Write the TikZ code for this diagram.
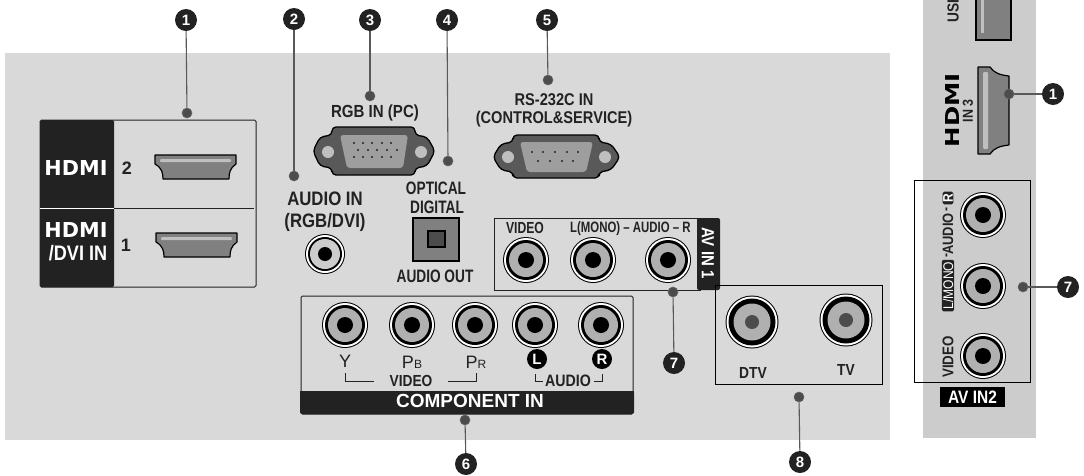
\documentclass[tikz,border=0pt]{standalone}
\usepackage{graphicx}
\usepackage{fontspec}
\setmainfont{Liberation Sans}
\newfontfamily\nar[FakeStretch=0.86]{Liberation Sans}
\newfontfamily\nrw[FakeStretch=0.76]{Liberation Sans}
\newfontfamily\logofont{DejaVu Sans}
\definecolor{ink}{HTML}{222222}
\definecolor{panelA}{HTML}{D9D9D9}
\definecolor{panelB}{HTML}{CCCCCC}
\definecolor{portgray}{HTML}{808080}
\definecolor{jackgray}{HTML}{B0B0B0}
\newcommand{\fsz}[1]{\fontsize{#1}{#1}\selectfont}
\newcommand{\jackport}[2]{%
  \fill[black] (#1,#2) circle (23);
  \fill[white] (#1,#2) circle (22);
  \fill[black] (#1,#2) circle (20);
  \fill[jackgray] (#1,#2) circle (17);
  \fill[black] (#1,#2) circle (8);}
\newcommand{\coaxport}[2]{%
  \fill[black] (#1,#2) circle (26.5);
  \fill[white] (#1,#2) circle (25.5);
  \fill[black] (#1,#2) circle (23.5);
  \fill[jackgray] (#1,#2) circle (18.5);
  \fill[black!70] (#1,#2) circle (7);}
\newcommand{\hdmiport}[2]{%
  \begin{scope}[shift={(#1,#2)}]
  \draw[portfill] (0,0) -- (81,0) -- (81,9) .. controls (75,13) and (74,18) .. (74,24) -- (8,24) .. controls (8,18) and (7,13) .. (0,9) -- cycle;
  \fill[black!25,rounded corners=1] (5,4) rectangle (76,7);
  \end{scope}}
\newcommand{\hdmilogo}[2]{\resizebox{#1pt}{#2pt}{\logofont\bfseries HDMI}}
\tikzset{
  x=1pt,y=-1pt,
  portfill/.style={draw=black,line width=1.2pt,fill=portgray,line join=round},
  lab/.style={inner sep=0,text=ink,font=\nar\bfseries\fsz{17.5}},
  whitelab/.style={lab,text=white},
  badge/.style={circle,fill=ink,text=white,inner sep=0,minimum size=22pt,font=\bfseries\fsz{15}},
  dotmark/.style={circle,fill=black!70,draw=black!60,line width=.6pt,inner sep=0,minimum size=10pt},
  lead/.style={draw=black!65,line width=1.1pt},
  framebox/.style={draw=ink,line width=1pt},
  blackband/.style={fill=ink},
  lr/.style={circle,fill=black,text=white,inner sep=0,minimum size=20pt,font=\bfseries\fsz{15}},
  tick/.style={draw=ink,line width=.8pt},
}
\begin{document}
\begin{tikzpicture}
\useasboundingbox (0,0) rectangle (1084,475);
% panels
\fill[panelA] (5,53) rectangle (890,440);
\fill[panelB] (923,0) rectangle (1036,438);

% HDMI block
\fill[blackband,rounded corners=1.5] (40,120) rectangle (114,287);
\draw[framebox,rounded corners=1.5] (40,120) rectangle (256,287);
\draw[white,line width=1pt] (40,208) -- (114,208);
\draw[ink,line width=1pt] (114,208) -- (254,208);
\node[inner sep=0,text=white] (logoa) at (76,168) {\hdmilogo{63}{15}};
\node[inner sep=0,text=white] (logob) at (76,230) {\hdmilogo{63}{15}};
\node[whitelab,font=\nar\bfseries\fsz{21}] (dvi) at (78,253) {/DVI IN};
\node[lab,font=\bfseries\fsz{18}] (two) at (127,168) {2};
\node[lab,font=\bfseries\fsz{18}] (one) at (126,245) {1};
\hdmiport{155}{155}
\hdmiport{156}{233}

% VGA
\draw[line width=1.3pt,fill=black!65,rounded corners=4,line join=round]
  (332,127) -- (415,127) -- (415,135) -- (427,137) -- (435,151) -- (427,166) -- (415,168) -- (415,175) -- (332,175) -- (332,168) -- (320,166) -- (313,151) -- (320,137) -- (332,135) -- cycle;
\fill[black!38,rounded corners=3] (340,135) -- (408,135) -- (403,168) -- (347,168) -- cycle;
\foreach \hx in {328,421} \fill[black!25] (\hx,152) circle (6);
\foreach \px in {354,363,372,382,391} {\fill[ink] (\px,143) circle (1.1); \fill[ink] (\px,157) circle (1.1);}
\foreach \px in {358,368,377,387,397} \fill[ink] (\px,150) circle (1.1);

% RS-232
\draw[line width=1.3pt,fill=black!65,rounded corners=4,line join=round]
  (513,135) -- (599,135) -- (599,142) -- (611,144) -- (620,157) -- (611,170) -- (599,172) -- (599,178) -- (513,178) -- (513,172) -- (501,170) -- (493,157) -- (501,144) -- (513,142) -- cycle;
\fill[black!38,rounded corners=3] (520,142) -- (593,142) -- (586,172) -- (527,172) -- cycle;
\foreach \hx in {508,605} \fill[black!25] (\hx,157) circle (6);
\foreach \px in {532,543,555,567,578} \fill[ink] (\px,152) circle (1.2);
\foreach \px in {538,550,562,573} \fill[ink] (\px,161) circle (1.2);

% top labels
\node[lab] (rgbin) at (375,113) {RGB IN (PC)};
\node[lab,font=\nar\bfseries\fsz{17}] (rsa) at (554,100) {RS-232C IN};
\node[lab,font=\nar\bfseries\fsz{17}] (rsb) at (554,119) {(CONTROL\&SERVICE)};
\node[lab,font=\nar\bfseries\fsz{19.5}] (aua) at (325,199) {AUDIO IN};
\node[lab,font=\nar\bfseries\fsz{19.5}] (aub) at (325,222) {(RGB/DVI)};
\node[lab,font=\nrw\bfseries\fsz{18}] (opa) at (436,188) {OPTICAL};
\node[lab,font=\nrw\bfseries\fsz{18}] (opb) at (437,207) {DIGITAL};
\node[lab,font=\nrw\bfseries\fsz{18}] (aout) at (435,276) {AUDIO OUT};

% audio in jack
\fill[black] (325,254) circle (20);
\fill[white] (325,254) circle (19);
\fill[black] (325,254) circle (17);
\fill[panelB] (325,254) circle (15);
\fill[black] (325,254) circle (7);

% optical
\draw[line width=2pt,fill=portgray] (413,218) rectangle (459,261);
\draw[line width=2pt,fill=black!70] (428,231) rectangle (445,247);

% AV IN 1
\draw[framebox] (494,218) rectangle (700,290);
\fill[blackband,rounded corners=2] (697,218) rectangle (720,290);
\node[whitelab,rotate=-90,font=\nar\bfseries\fsz{17.5}] (avin) at (708,253) {AV IN 1};
\node[lab,font=\nrw\bfseries\fsz{16}] (vid) at (525,228) {VIDEO};
\node[lab,anchor=west,font=\nrw\bfseries\fsz{15}] (lmono) at (570,229) {L(MONO) – AUDIO – R};
\jackport{526}{260}
\jackport{593}{260}
\jackport{668}{260}

% component
\draw[framebox,rounded corners=1.5] (301,296) rectangle (633,414);
\fill[blackband,rounded corners=2] (300,391) rectangle (634,414);
\fill[blackband] (300,391) rectangle (634,400);
\node[whitelab,font=\bfseries\fsz{19}] (comp) at (470,401) {COMPONENT IN};
\foreach \jx in {345,412,475,535,601} {\jackport{\jx}{325}}
\node[lab,font=\mdseries\fsz{18}] (yy) at (345,361) {Y};
\node[lab,font=\mdseries\fsz{18}] (pb) at (412,362) {P{\fsz{12}B}};
\node[lab,font=\mdseries\fsz{18}] (pr) at (476,362) {P{\fsz{12}R}};
\node[lr] (ll) at (537,359) {L};
\node[lr] (rr) at (602,359) {R};
\node[lab,font=\nar\bfseries\fsz{16}] (vv) at (411,381) {VIDEO};
\node[lab,font=\nar\bfseries\fsz{16.5}] (aa) at (568,381) {AUDIO};
\draw[tick] (345,373) -- (345,381) -- (374,381);
\draw[tick] (448,381) -- (476,381) -- (476,373);
\draw[tick] (535,374) -- (535,381) -- (543,381);
\draw[tick] (594,381) -- (602,381) -- (602,374);

% antenna
\draw[draw=black,line width=1pt] (715,285) rectangle (882,384);
\coaxport{752}{322}
\coaxport{846}{320}
\node[lab,font=\nar\bfseries\fsz{16}] (dtv) at (753,373) {DTV};
\node[lab,font=\nar\bfseries\fsz{16}] (tv) at (846,370) {TV};

% right: USB
\node[lab,rotate=90,anchor=west,font=\nar\bfseries\fsz{16}] (usb) at (953,23) {USB};
\draw[line width=1.2pt,fill=portgray] (976,-3) rectangle (1011,40);
\fill[black!25] (981,-3) rectangle (984,33);

% right: HDMI IN 3
\draw[portfill] (978,67) -- (990,67) .. controls (994,73) and (1000,75) .. (1009,76) -- (1009,145) .. controls (1000,146) and (994,148) .. (990,154) -- (978,154) -- cycle;
\fill[black!25,rounded corners=1] (983,72) rectangle (988,149);
\node[inner sep=0,text=black,rotate=90] (logoc) at (952,110) {\hdmilogo{74}{14}};
\node[lab,rotate=90,font=\nar\bfseries\fsz{14.5}] (in3) at (968,111) {IN 3};

% right: AV IN 2
\draw[draw=black,line width=1pt] (914,180) rectangle (1030,382);
\jackport{983}{215}
\jackport{983}{286}
\jackport{983}{356}
\node[lab,rotate=90,font=\nar\bfseries\fsz{15.5}] (vidr) at (948,357) {VIDEO};
\node[rotate=90,fill=ink,text=white,inner ysep=1pt,inner xsep=2pt,rounded corners=1.5,font=\nar\fsz{14}] (monor) at (948,285.5) {L/MONO};
\node[lab,rotate=90,font=\nar\bfseries\fsz{14}] (dasha) at (948,255) {-};
\node[lab,rotate=90,font=\nar\bfseries\fsz{15}] (audr) at (948,234) {AUDIO};
\node[lab,rotate=90,font=\nar\bfseries\fsz{14}] (dashb) at (948,209) {-};
\node[rotate=90,fill=ink,text=white,inner ysep=0.5pt,inner xsep=2pt,rounded corners=1.5,font=\nar\bfseries\fsz{14}] (rbox) at (948,198) {R};
\node[fill=black,text=white,inner sep=0,minimum width=65pt,minimum height=20pt,font=\nar\bfseries\fsz{18}] (av2) at (972.5,397) {AV IN2};

% callouts
\node[dotmark] (da) at (187,113) {};
\node[dotmark] (db) at (294,176) {};
\node[dotmark] (dc) at (370,96) {};
\node[dotmark] (dd) at (448,161) {};
\node[dotmark] (de) at (548,80) {};
\node[dotmark] (df) at (465,420) {};
\node[dotmark] (dg) at (673,292) {};
\node[dotmark] (dh) at (799,397) {};
\node[dotmark] (di) at (1009,94) {};
\node[dotmark] (dj) at (1023,287) {};
\node[badge] (ba) at (186,20) {1};
\node[badge] (bb) at (294,19) {2};
\node[badge] (bc) at (370,20) {3};
\node[badge] (bd) at (447,20) {4};
\node[badge] (be) at (547,20) {5};
\node[badge] (bf) at (466,464) {6};
\node[badge] (bg) at (674,363) {7};
\node[badge] (bh) at (800,462) {8};
\node[badge] (bi) at (1053,94) {1};
\node[badge] (bj) at (1068,287) {7};
\draw[lead] (ba) -- (da);
\draw[lead] (bb) -- (db);
\draw[lead] (bc) -- (dc);
\draw[lead] (bd) -- (dd);
\draw[lead] (be) -- (de);
\draw[lead] (bf) -- (df);
\draw[lead] (bg) -- (dg);
\draw[lead] (bh) -- (dh);
\draw[lead] (bi) -- (di);
\draw[lead] (bj) -- (dj);
\end{tikzpicture}
\end{document}
